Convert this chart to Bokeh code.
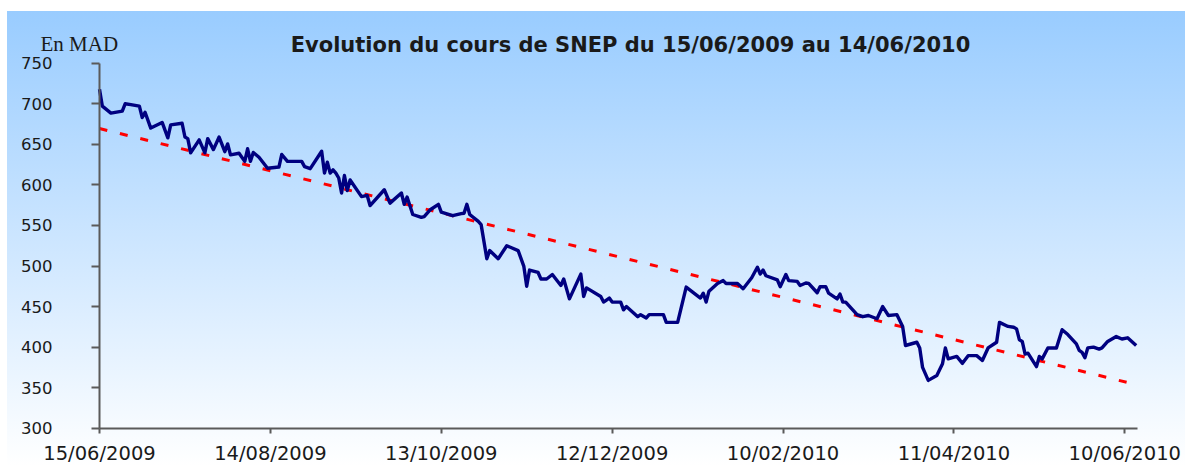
import pandas as pd
from bokeh.plotting import figure
from bokeh.models import Range1d, FixedTicker, DatetimeTickFormatter, Label
from bokeh.embed import file_html
from bokeh.resources import INLINE

# ---------------- data ----------------
start_date = "2009-06-15"

# days since 15/06/2009
price_days = [0, 1, 4, 8, 9, 11, 14, 15, 16, 18, 22, 24, 25, 29, 30, 31, 32, 35, 37, 38,
              40, 42, 44, 45, 46, 49, 51, 52, 53, 54, 56, 59, 63, 64, 66, 71, 72, 74, 78, 79,
              80, 81, 82, 83, 84, 85, 86, 87, 88, 92, 94, 95, 100, 102, 106, 107, 108, 110, 113, 114,
              116, 119, 120, 124, 127, 128, 129, 130, 133, 134, 136, 137, 140, 143, 147, 149, 150, 151, 154, 155,
              157, 159, 162, 163, 165, 169, 170, 171, 176, 177, 179, 180, 183, 184, 185, 189, 190, 192, 193, 198,
              199, 203, 206, 211, 212, 213, 214, 217, 219, 220, 224, 226, 229, 231, 232, 233, 234, 238, 239, 241,
              242, 245, 246, 248, 249, 252, 253, 255, 256, 259, 260, 261, 262, 266, 268, 270, 273, 275, 277, 280,
              282, 283, 287, 288, 289, 291, 294, 296, 297, 298, 301, 303, 305, 308, 310, 312, 315, 316, 319, 321,
              322, 323, 324, 325, 326, 329, 330, 331, 333, 336, 338, 340, 343, 344, 345, 346, 347, 349, 351, 352,
              354, 357, 359, 361, 364]

price_values = [718, 697, 688.5, 691, 700, 699, 697, 683, 689.5, 670, 677, 658, 674, 676, 659, 657, 639.5, 655.5, 639.5, 657,
                643.5, 659, 641, 650.5, 637, 639, 629, 644.5, 629, 640, 634, 620.5, 622, 637.5, 629, 629, 622.5, 620, 641.5, 614.5,
                628, 614.5, 618.5, 614.5, 608.5, 590, 611.5, 593, 606, 585.5, 587, 574.5, 594, 577.5, 590, 576, 585, 563.5, 560, 561,
                569, 576, 566.5, 562, 564.5, 565, 576, 563.5, 555, 551, 509, 519, 509, 525, 519, 499.5, 475, 495, 492, 484,
                484, 489.5, 476, 484, 459.5, 490, 462.5, 473, 462.5, 455.5, 460.5, 455.5, 455.5, 446, 450, 437.5, 440, 436, 440, 440,
                430.5, 430.5, 474, 460.5, 466.5, 455.5, 469, 478.5, 482, 478.5, 478.5, 472, 485.5, 498.5, 490, 495, 488, 483, 474.5, 489.5,
                482, 481, 476, 479, 478.5, 467, 474.5, 474.5, 466.5, 459.5, 465.5, 455.5, 455.5, 440, 437.5, 439, 435, 450, 439, 440,
                425.5, 402, 406, 399, 375, 359, 365, 379.5, 399, 385.5, 388.5, 380, 389.5, 389.5, 383.5, 399, 406, 430.5, 425.5, 424.5,
                422.5, 409, 407, 391.5, 392.5, 376, 388.5, 385.5, 399, 399, 421.5, 415.5, 404, 396, 393.5, 387, 399, 400, 397.5, 399,
                407, 413, 410, 411.5, 402]

trend_days = [0, 362]
trend_values = [669.5, 355.5]

tick_labels = ["15/06/2009", "14/08/2009", "13/10/2009", "12/12/2009",
               "10/02/2010", "11/04/2010", "10/06/2010"]
y_ticks = [300, 350, 400, 450, 500, 550, 600, 650, 700, 750]

title_text = "Evolution du cours de SNEP du 15/06/2009 au 14/06/2010"
unit_text = "En MAD"

assert len(price_days) == len(price_values)

# ---------------- layout geometry (pixels) ----------------
W, H = 1185, 466
AX_X0 = 99.0          # pixel of 15/06/2009
PX_DAY = 2.848        # pixels per day
AXIS_DAYS = 364.6     # length of the x axis in days
Y_TOP_PX = 62.7       # pixel of 750
PX_UNIT = 40.56 / 50  # pixels per MAD

DAY_MS = 86400000.0
t0 = pd.Timestamp(start_date)
t0_ms = t0.timestamp() * 1000

price_dates = t0 + pd.to_timedelta(price_days, unit="D")
trend_dates = t0 + pd.to_timedelta(trend_days, unit="D")
tick_ms = [pd.to_datetime(s, format="%d/%m/%Y").timestamp() * 1000 for s in tick_labels]

x0 = t0_ms - AX_X0 / PX_DAY * DAY_MS
x1 = t0_ms + (W - AX_X0) / PX_DAY * DAY_MS
y_hi = y_ticks[-1] + Y_TOP_PX / PX_UNIT
y_lo = y_ticks[-1] - (H - Y_TOP_PX) / PX_UNIT

p = figure(width=W, height=H, x_axis_type="datetime",
           x_range=Range1d(x0, x1), y_range=Range1d(y_lo, y_hi),
           output_backend="svg", toolbar_location=None, min_border=0)

p.styles = {"background": "linear-gradient(to right, #ffffff 0px, #ffffff 7px, rgba(255,255,255,0) 7px), "
                          "linear-gradient(to bottom, #ffffff 0px, #ffffff 11px, #99ccff 11px, #ffffff 100%)"}
p.background_fill_color = None
p.border_fill_color = None
p.outline_line_color = None
p.grid.visible = False

# trend line (dashed red)
p.line(trend_dates, trend_values, line_color="#ff0000", line_width=3,
       line_dash="8 13", line_cap="butt")
# price line
p.line(price_dates, price_values, line_color="#000080", line_width=3.4, line_join="round")

axis_color = "#5a5a5a"
fmt = "%d/%m/%Y"
xa = p.xaxis[0]
xa.fixed_location = y_ticks[0]
xa.bounds = (t0_ms, t0_ms + AXIS_DAYS * DAY_MS)
xa.ticker = FixedTicker(ticks=tick_ms)
xa.formatter = DatetimeTickFormatter(microseconds=fmt, milliseconds=fmt, seconds=fmt,
                                     minsec=fmt, minutes=fmt, hourmin=fmt, hours=fmt,
                                     days=fmt, months=fmt, years=fmt,
                                     strip_leading_zeros=False)
xa.major_label_text_font = "DejaVu Sans"
xa.major_label_text_font_size = "19.5px"
xa.major_label_text_color = "#1a1a1a"
xa.major_label_standoff = 9
xa.major_tick_out = 5
xa.major_tick_in = 0
xa.minor_tick_line_color = None
xa.axis_line_color = axis_color
xa.axis_line_width = 2
xa.major_tick_line_color = axis_color
xa.major_tick_line_width = 2

ya = p.yaxis[0]
ya.fixed_location = t0_ms
ya.bounds = (y_ticks[0], y_ticks[-1])
ya.ticker = FixedTicker(ticks=y_ticks)
ya.major_label_text_font = "DejaVu Sans"
ya.major_label_text_font_size = "16.5px"
ya.major_label_text_color = "#1a1a1a"
ya.major_label_standoff = 39
ya.major_tick_out = 8
ya.major_tick_in = 0
ya.minor_tick_line_color = None
ya.axis_line_color = axis_color
ya.axis_line_width = 2
ya.major_tick_line_color = axis_color
ya.major_tick_line_width = 2

p.add_layout(Label(x=630, y=H - 44, x_units="screen", y_units="screen", text=title_text,
                   text_align="center", text_baseline="alphabetic",
                   text_font="DejaVu Sans", text_font_style="bold",
                   text_font_size="21px", text_color="#1a1a1a"))
p.add_layout(Label(x=40, y=H - 43, x_units="screen", y_units="screen", text=unit_text,
                   text_align="left", text_baseline="alphabetic",
                   text_font="Liberation Serif", text_font_size="21px",
                   text_color="#1a1a1a"))

open("out.html", "w").write(file_html(p, INLINE))
